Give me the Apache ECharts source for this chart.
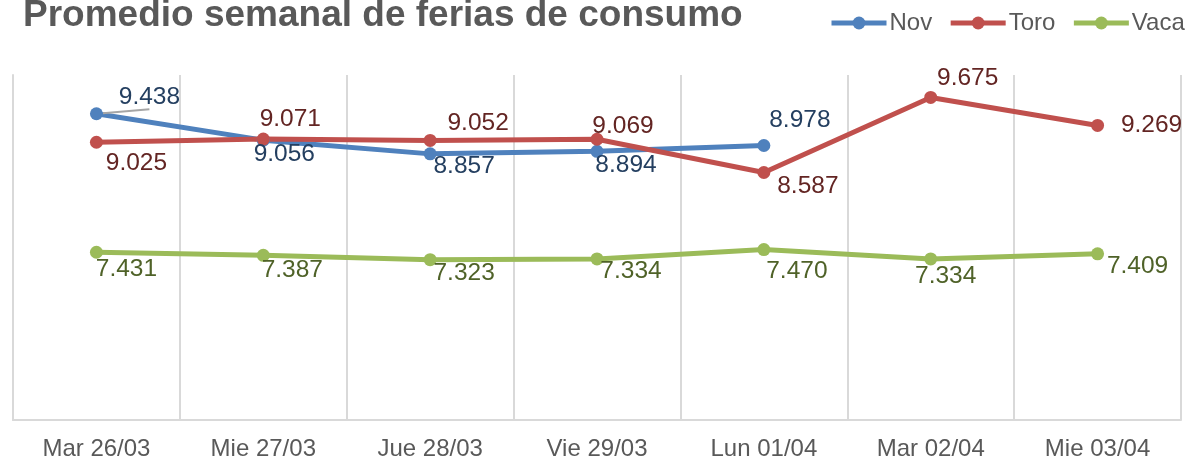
<!DOCTYPE html>
<html>
<head>
<meta charset="utf-8">
<script src="https://cdn.jsdelivr.net/npm/echarts@6/dist/echarts.min.js"></script>
<style>
html,body{margin:0;padding:0;background:#fff;}
#chart{width:1187px;height:463px;}
</style>
</head>
<body>
<div id="chart"></div>
<script>
const categories = ['Mar 26/03', 'Mie 27/03', 'Jue 28/03', 'Vie 29/03', 'Lun 01/04', 'Mar 02/04', 'Mie 03/04'];
const novValues = [9.438, 9.056, 8.857, 8.894, 8.978, null, null];
const toroValues = [9.025, 9.071, 9.052, 9.069, 8.587, 9.675, 9.269];
const vacaValues = [7.431, 7.387, 7.323, 7.334, 7.470, 7.334, 7.409];

// label offsets (layout only)
const novOffsets = [[53, -17], [21, 14], [34, 12], [29, 14], [36, -25], [0, 0], [0, 0]];
const toroOffsets = [[40, 21], [27, -20], [48, -17], [26, -13], [44, 14], [37, -19], [54, 0]];
const vacaOffsets = [[30, 17], [29, 15], [34, 14], [34, 12], [33, 22], [15, 17], [40, 12]];
// which labels carry a leader line
const novLeader = [true, false, false, false, false, false, false];

const FONT = "'Liberation Sans', Arial, sans-serif";

function fmt(v) { return v.toFixed(3); }

function buildData(values, offsets, leaders) {
  return values.map((v, i) => {
    const d = { value: v, label: { offset: offsets[i] } };
    if (leaders && leaders[i]) {
      d.labelLine = { show: true, lineStyle: { color: '#A6A6A6', width: 2 } };
    }
    return d;
  });
}

function makeSeries(name, values, offsets, lineColor, labelColor, leaders) {
  return {
    name: name,
    type: 'line',
    data: buildData(values, offsets, leaders),
    symbol: 'circle',
    symbolSize: 13,
    connectNulls: false,
    lineStyle: { color: lineColor, width: 5 },
    itemStyle: { color: lineColor },
    label: {
      show: true,
      position: 'inside',
      color: labelColor,
      fontSize: 24.5,
      fontFamily: FONT,
      formatter: p => (p.value == null ? '' : fmt(p.value))
    },
    labelLine: { show: false },
    emphasis: { disabled: true },
    z: 3
  };
}

const chart = echarts.init(document.getElementById('chart'));
const novSeries = makeSeries('Nov', novValues, novOffsets, '#4F81BD', '#243F60', novLeader);
const toroSeries = makeSeries('Toro', toroValues, toroOffsets, '#C0504D', '#632523');
const vacaSeries = makeSeries('Vaca', vacaValues, vacaOffsets, '#9BBB59', '#4F6228');

chart.setOption({
  animation: false,
  backgroundColor: '#ffffff',
  title: {
    text: 'Promedio semanal de ferias de consumo',
    left: 23,
    top: -3,
    padding: 0,
    textStyle: { fontSize: 37, fontWeight: 'bold', color: '#595959', fontFamily: FONT }
  },
  legend: {
    left: 829,
    top: 11,
    width: 600,
    padding: 0,
    itemWidth: 55,
    itemHeight: 16,
    itemGap: 16,
    lineStyle: { width: 5 },
    textStyle: { fontSize: 24, color: '#595959', fontFamily: FONT, padding: [0, 0, 0, -2] },
    data: ['Nov', 'Toro', 'Vaca']
  },
  grid: { left: 13, right: 6, top: 75, bottom: 43, containLabel: false },
  xAxis: {
    type: 'category',
    data: categories,
    boundaryGap: true,
    axisLine: { show: true, lineStyle: { color: '#D9D9D9', width: 2 } },
    axisTick: { show: false },
    splitLine: { show: true, lineStyle: { color: '#D9D9D9', width: 2 } },
    axisLabel: { color: '#595959', fontSize: 24, fontFamily: FONT, margin: 17, interval: 0 }
  },
  yAxis: {
    type: 'value',
    min: 5,
    max: 10,
    interval: 1,
    axisLine: { show: true, lineStyle: { color: '#D9D9D9', width: 2 } },
    axisTick: { show: false },
    axisLabel: { show: false },
    splitLine: { show: false }
  },
  series: [novSeries, toroSeries, vacaSeries]
});
</script>
</body>
</html>
